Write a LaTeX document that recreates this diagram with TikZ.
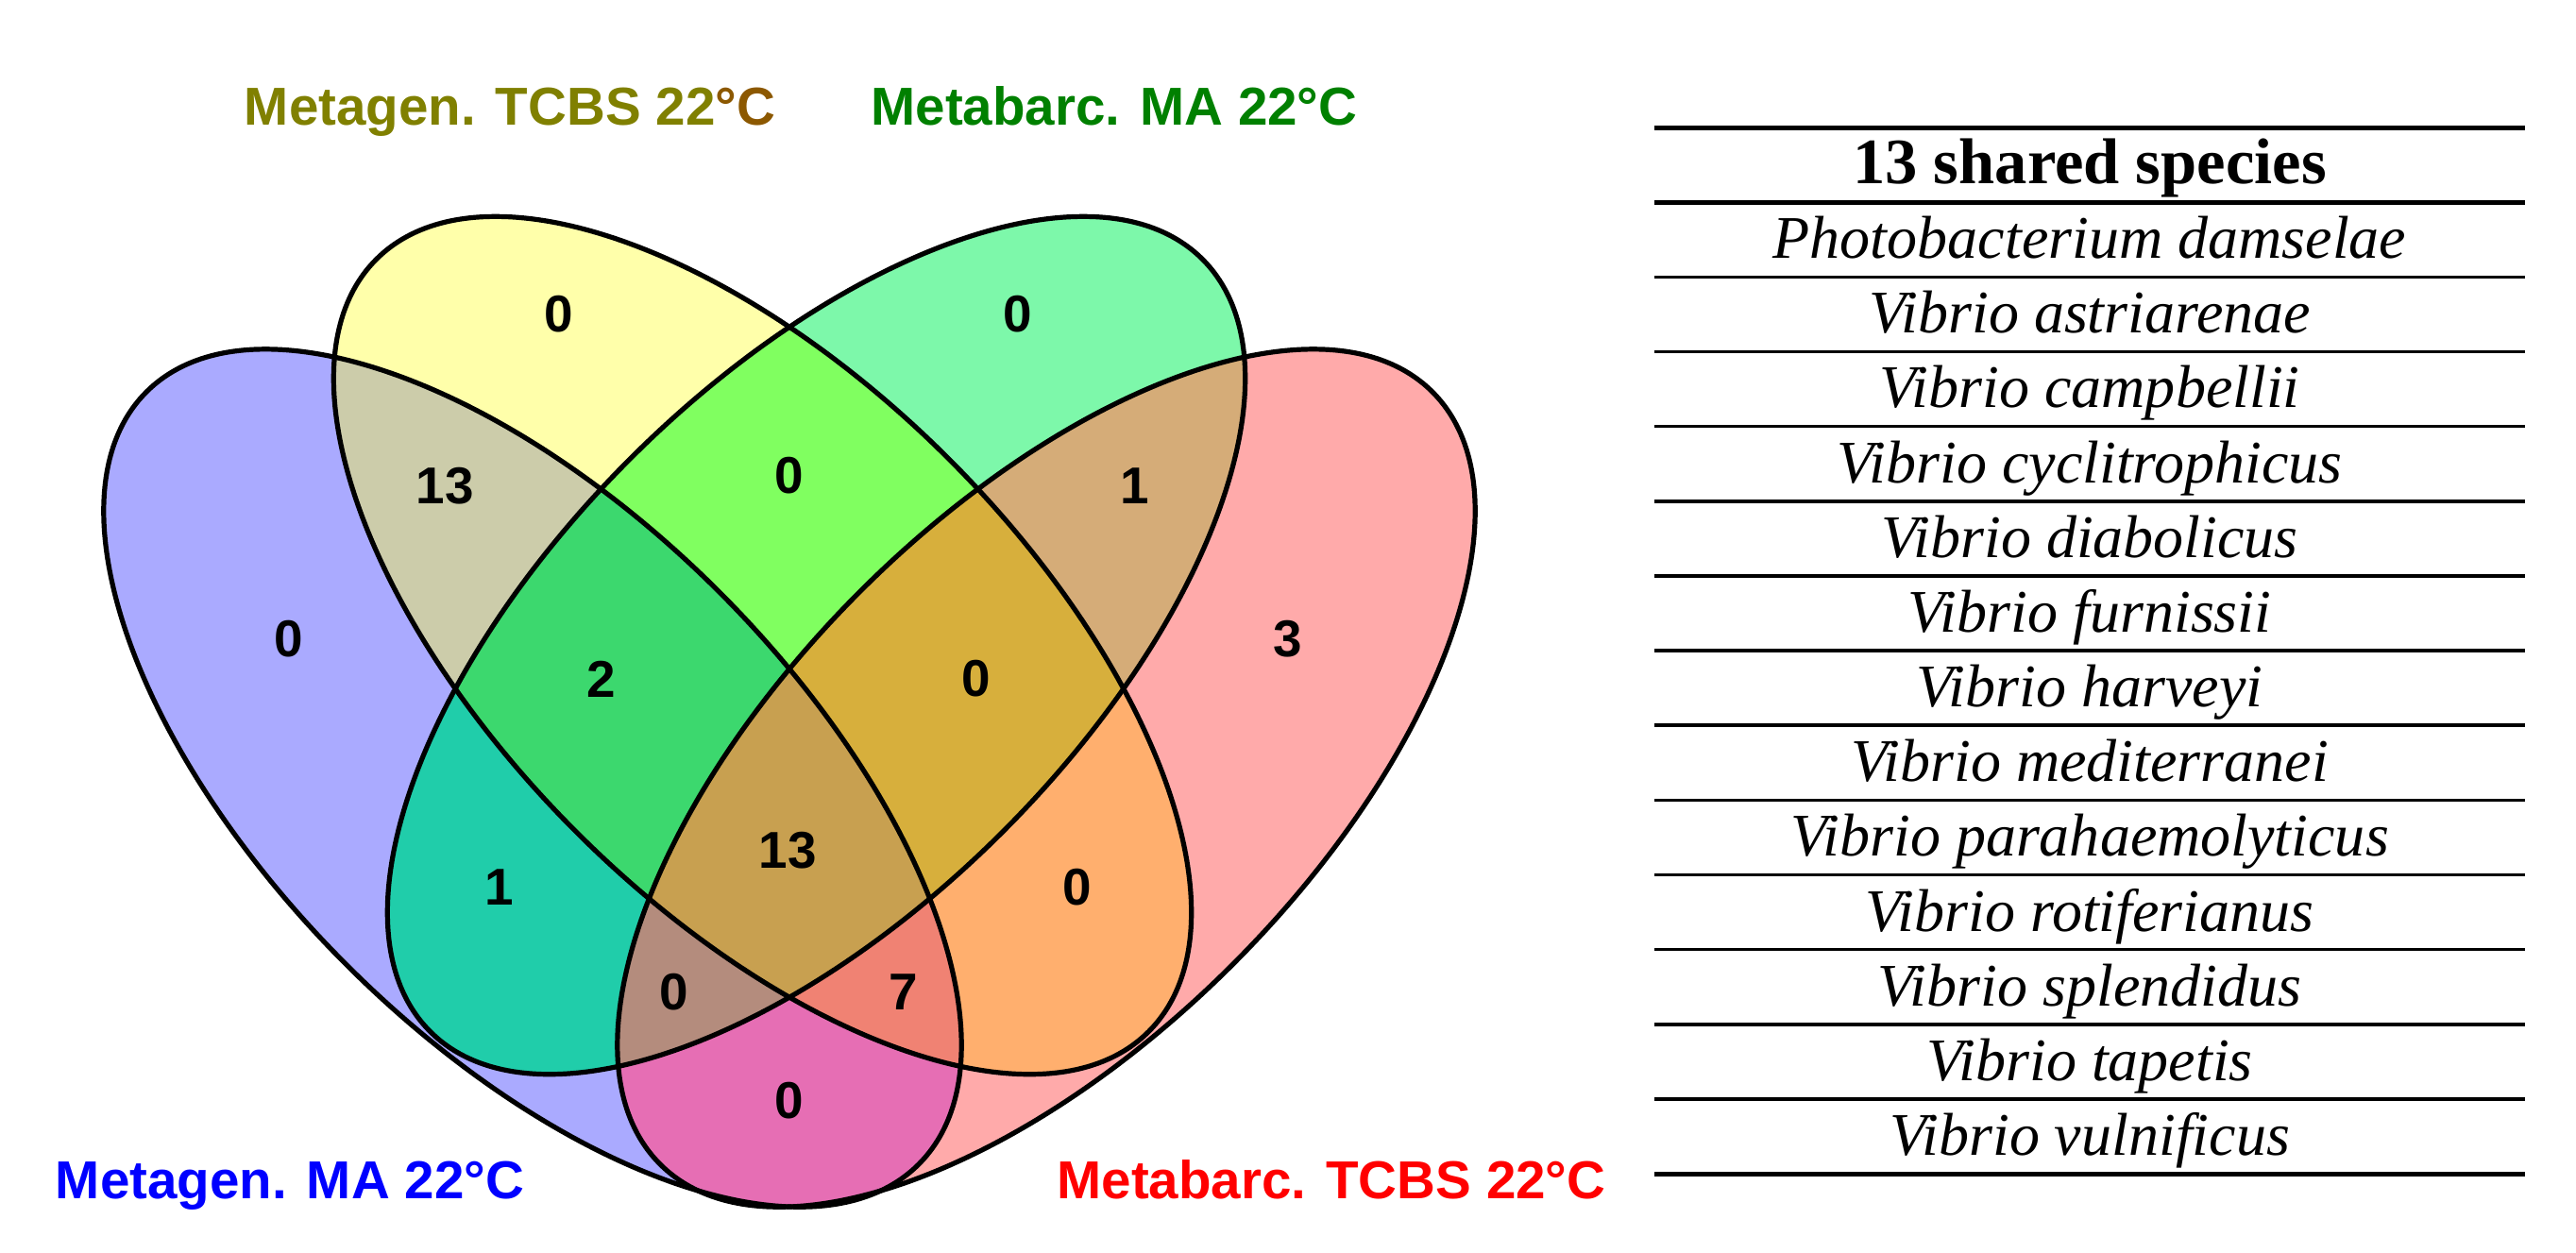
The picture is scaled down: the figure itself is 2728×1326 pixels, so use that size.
\documentclass[tikz,border=0pt]{standalone}
\usepackage{fontspec}
\setmainfont{Liberation Serif}
\newfontfamily\arialfont{Liberation Sans}
\definecolor{cA}{RGB}{170,170,255}
\definecolor{cB}{RGB}{255,255,170}
\definecolor{cC}{RGB}{125,248,170}
\definecolor{cD}{RGB}{255,170,170}
\definecolor{cAB}{RGB}{204,204,170}
\definecolor{cAC}{RGB}{32,205,170}
\definecolor{cAD}{RGB}{230,110,180}
\definecolor{cBC}{RGB}{128,255,96}
\definecolor{cBD}{RGB}{255,175,110}
\definecolor{cCD}{RGB}{213,172,120}
\definecolor{cABC}{RGB}{60,216,110}
\definecolor{cABD}{RGB}{240,130,115}
\definecolor{cACD}{RGB}{180,140,125}
\definecolor{cBCD}{RGB}{215,175,60}
\definecolor{cABCD}{RGB}{200,160,80}
\definecolor{lolive}{RGB}{128,128,0}
\definecolor{lbrown}{RGB}{140,88,0}
\definecolor{lgreen}{RGB}{0,128,0}
\definecolor{lblue}{RGB}{0,0,255}
\definecolor{lred}{RGB}{255,0,0}
\newcommand\EA{(564,824) ellipse [x radius=5.78cm, y radius=2.79cm]}
\newcommand\EB{(807.5,683.5) ellipse [x radius=5.78cm, y radius=2.79cm]}
\newcommand\EC{(864.5,683.5) ellipse [x radius=5.78cm, y radius=2.79cm]}
\newcommand\ED{(1108,824) ellipse [x radius=5.78cm, y radius=2.79cm]}
\begin{document}
\begin{tikzpicture}[x=0.01cm,y=-0.01cm,
  rA/.style={rotate around={-45:(564,824)}},
  rB/.style={rotate around={-45:(807.5,683.5)}},
  rC/.style={rotate around={45:(864.5,683.5)}},
  rD/.style={rotate around={45:(1108,824)}},
  outline/.style={draw=black, line width=0.052cm},
  vlabel/.style={font=\arialfont\bfseries\fontsize{16.08}{18}\selectfont, anchor=base, inner sep=0},
  vnum/.style={font=\arialfont\bfseries\fontsize{15.6}{17}\selectfont, inner sep=0, text=black},
  species/.style={font=\itshape\fontsize{18.21}{20}\selectfont, anchor=base, inner sep=0},
  header/.style={font=\bfseries\fontsize{19.5}{21}\selectfont, anchor=base, inner sep=0},
  rule/.style={line width=0.035cm},
  thickrule/.style={line width=0.05cm}]
\useasboundingbox (0,0) rectangle (2728,1326);
\fill[white] (0,0) rectangle (2728,1326);
% single sets
\fill[cA,rA] \EA;
\fill[cB,rB] \EB;
\fill[cC,rC] \EC;
\fill[cD,rD] \ED;
% pairs
\begin{scope}\clip[rA] \EA; \fill[cAB,rB] \EB;\end{scope}
\begin{scope}\clip[rA] \EA; \fill[cAC,rC] \EC;\end{scope}
\begin{scope}\clip[rA] \EA; \fill[cAD,rD] \ED;\end{scope}
\begin{scope}\clip[rB] \EB; \fill[cBC,rC] \EC;\end{scope}
\begin{scope}\clip[rB] \EB; \fill[cBD,rD] \ED;\end{scope}
\begin{scope}\clip[rC] \EC; \fill[cCD,rD] \ED;\end{scope}
% triples
\begin{scope}\clip[rA] \EA; \clip[rB] \EB; \fill[cABC,rC] \EC;\end{scope}
\begin{scope}\clip[rA] \EA; \clip[rB] \EB; \fill[cABD,rD] \ED;\end{scope}
\begin{scope}\clip[rA] \EA; \clip[rC] \EC; \fill[cACD,rD] \ED;\end{scope}
\begin{scope}\clip[rB] \EB; \clip[rC] \EC; \fill[cBCD,rD] \ED;\end{scope}
% all four
\begin{scope}\clip[rA] \EA; \clip[rB] \EB; \clip[rC] \EC; \fill[cABCD,rD] \ED;\end{scope}
% outlines
\draw[outline,rA] \EA;
\draw[outline,rB] \EB;
\draw[outline,rC] \EC;
\draw[outline,rD] \ED;
% counts
\node[vnum] (nA) at (306,677) {0};
\node[vnum] (nB) at (592,333) {0};
\node[vnum] (nC) at (1078,333) {0};
\node[vnum] (nD) at (1364,677) {3};
\node[vnum] (nAB) at (471,515) {13};
\node[vnum] (nBC) at (836,504) {0};
\node[vnum] (nCD) at (1202,515) {1};
\node[vnum] (nABC) at (637,719) {2};
\node[vnum] (nBCD) at (1034,719) {0};
\node[vnum] (nABCD) at (834,901) {13};
\node[vnum] (nAC) at (529,940) {1};
\node[vnum] (nBD) at (1141,940) {0};
\node[vnum] (nACD) at (714,1051) {0};
\node[vnum] (nABD) at (957,1051) {7};
\node[vnum] (nAD) at (836,1166) {0};
% set labels
\node[vlabel, text=lolive] (labB) at (540,132) {Metagen. TCBS 22\textcolor{lbrown}{°C}};
\node[vlabel, text=lgreen] (labC) at (1180,132) {Metabarc. MA 22°C};
\node[vlabel, text=lblue] (labA) at (307,1269) {Metagen. MA 22°C};
\node[vlabel, text=lred] (labD) at (1410,1269) {Metabarc. TCBS 22°C};
% table rules
\foreach \k in {0,...,14} \draw[rule] (1752,{135+79.15*\k}) -- (2674,{135+79.15*\k});
\draw[thickrule] (1752,135) -- (2674,135);
\draw[thickrule] (1752,214.15) -- (2674,214.15);
\draw[thickrule] (1752,1243.1) -- (2674,1243.1);
% table text
\node[header] (hdr) at (2213,194.5) {13 shared species};
\foreach \s [count=\i] in {Photobacterium damselae, Vibrio astriarenae, Vibrio campbellii, Vibrio cyclitrophicus, Vibrio diabolicus, Vibrio furnissii, Vibrio harveyi, Vibrio mediterranei, Vibrio parahaemolyticus, Vibrio rotiferianus, Vibrio splendidus, Vibrio tapetis, Vibrio vulnificus}
  \node[species] (sp\i) at (2213,{194.5+79.15*\i}) {\s};
\end{tikzpicture}
\end{document}
